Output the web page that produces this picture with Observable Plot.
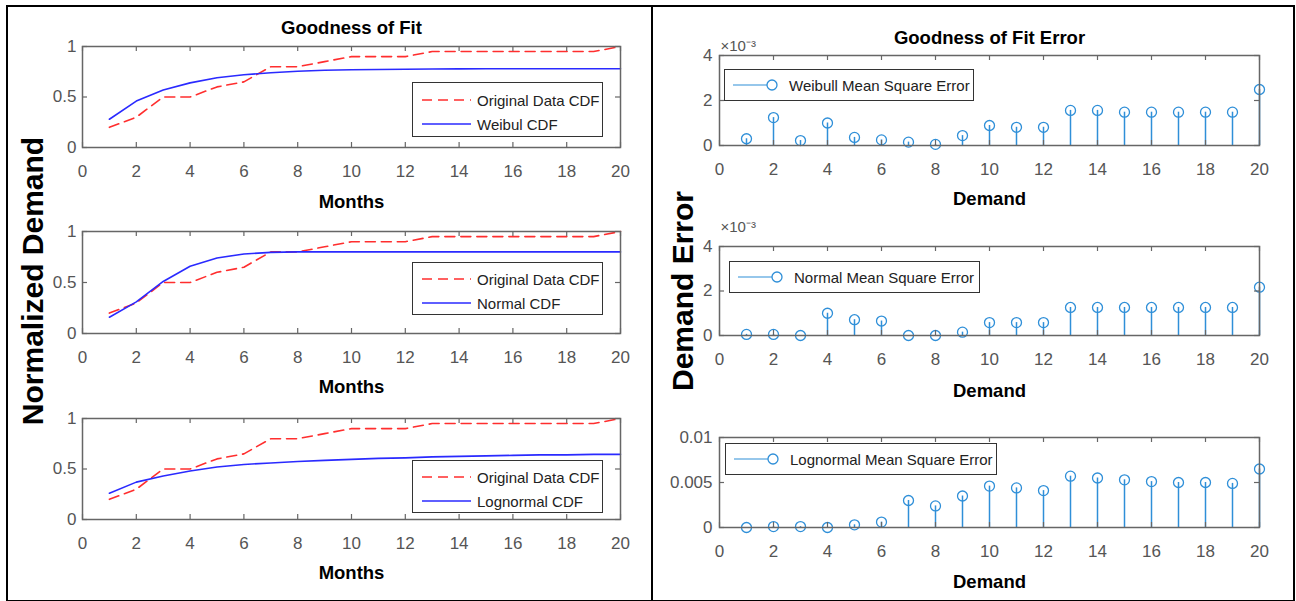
<!DOCTYPE html>
<html><head><meta charset="utf-8">
<script src="https://cdn.jsdelivr.net/npm/d3@7"></script>
<script src="https://cdn.jsdelivr.net/npm/@observablehq/plot@0.6"></script>
<style>
html,body{margin:0;padding:0;background:#fff;}
#root{position:relative;width:1296px;height:601px;overflow:hidden;background:#fff;font-family:"Liberation Sans",Arial,sans-serif;}
.frameBox{position:absolute;left:6px;top:5px;width:1289px;height:597px;box-sizing:border-box;border:2px solid #000;}
.divider{position:absolute;left:651px;top:5px;width:2px;height:597px;background:#000;}
.vlabel{position:absolute;font-weight:bold;font-size:30px;color:#000;white-space:nowrap;transform:translate(-50%,-50%) rotate(-90deg);}
.legend{position:absolute;background:#fff;border:1px solid #333;box-sizing:border-box;}
.legend .txt{position:absolute;font-size:15px;color:#222;white-space:nowrap;transform:translateY(-50%);}
.legend svg{position:absolute;overflow:visible;}
</style></head><body><div id="root"><div class="frameBox"></div><div class="divider"></div></div>
<script>
// ---------- data ----------
const months = [1,2,3,4,5,6,7,8,9,10,11,12,13,14,15,16,17,18,19,20];
const xTicks = [0,2,4,6,8,10,12,14,16,18,20];
const cdfTicks = [0,0.5,1];
const mseTicks = [0,0.002,0.004];
const lognTicks = [0,0.005,0.01];

const originalCDF = [0.2,0.3,0.5,0.5,0.6,0.65,0.8,0.8,0.85,0.9,0.9,0.9,0.95,0.95,0.95,0.95,0.95,0.95,0.95,1.0];
const weibullCDF  = [0.28,0.46,0.57,0.64,0.69,0.72,0.74,0.755,0.765,0.77,0.772,0.775,0.777,0.778,0.779,0.78,0.78,0.78,0.78,0.78];
const normalCDF   = [0.16,0.31,0.51,0.66,0.74,0.78,0.795,0.8,0.8,0.8,0.8,0.8,0.8,0.8,0.8,0.8,0.8,0.8,0.8,0.8];
const lognormalCDF= [0.26,0.37,0.43,0.48,0.52,0.545,0.56,0.575,0.585,0.595,0.605,0.61,0.62,0.625,0.63,0.635,0.64,0.64,0.645,0.645];

const weibullMSE  = [0.00030,0.00124,0.00022,0.00100,0.00036,0.00025,0.00015,0.00005,0.00044,0.00089,0.00081,0.00081,0.00156,0.00156,0.00148,0.00148,0.00148,0.00148,0.00148,0.00249];
const normalMSE   = [0.00005,0.00005,0.0,0.00100,0.00071,0.00065,0.0,0.0,0.00015,0.00058,0.00058,0.00058,0.00126,0.00126,0.00126,0.00126,0.00126,0.00126,0.00126,0.00217];
const lognormalMSE= [0.0,0.0001,0.0001,0.0,0.0003,0.0006,0.0030,0.0024,0.0035,0.0046,0.0044,0.0041,0.0057,0.0055,0.0053,0.0051,0.0050,0.0050,0.0049,0.0065];

const rows = months.map((m,i)=>({m, orig:originalCDF[i], weib:weibullCDF[i], norm:normalCDF[i], logn:lognormalCDF[i],
  eW:weibullMSE[i], eN:normalMSE[i], eL:lognormalMSE[i]}));

// ---------- styles ----------
const FONT = '"Liberation Sans", Arial, sans-serif';
const RED = "#ff2e2e", BLUE = "#2a2aff", STEM = "#2f8fd8", AX = "#666", TICKTXT = "#555";
const root = document.getElementById("root");

function subplot(o){
  const {left, top, width, height, f} = o;
  const fw = f.x1 - f.x0, fh = f.y1 - f.y0;
  const extra = [];
  if (o.title) extra.push(Plot.text([o.title], {frameAnchor:"top", lineAnchor:"bottom", dy:o.titleBase - f.y0,
    fontWeight:"bold", fontSize:18.5, fill:"#000", fontFamily:FONT}));
  if (o.exponent) extra.push(Plot.text([o.exponent], {frameAnchor:"top-left", textAnchor:"start", lineAnchor:"bottom",
    dx:1, dy:o.expBase - f.y0, fontSize:15, fill:TICKTXT, fontFamily:FONT}));
  extra.push(Plot.text([o.xlabel], {frameAnchor:"bottom", lineAnchor:"bottom", dy:o.xlabelBase - f.y1,
    fontWeight:"bold", fontSize:18.5, fill:"#000", fontFamily:FONT}));
  const p = Plot.plot({
    width, height,
    marginLeft: f.x0 - left, marginRight: left + width - f.x1,
    marginTop: f.y0 - top, marginBottom: top + height - f.y1,
    x: {domain:[0,20]},
    y: {domain:o.yDomain},
    style: {background:"transparent", overflow:"visible", fontFamily:FONT, fontSize:"17px"},
    marks: [
      ...o.marks,
      Plot.frame({stroke:AX, strokeWidth:1.5}),
      Plot.tickX(xTicks, {x:d=>d, stroke:AX, strokeWidth:1.2, insetTop:fh-5}),
      Plot.tickX(xTicks, {x:d=>d, stroke:AX, strokeWidth:1.2, insetBottom:fh-5}),
      Plot.tickY(o.yTicks, {y:d=>d, stroke:AX, strokeWidth:1.2, insetRight:fw-5}),
      Plot.tickY(o.yTicks, {y:d=>d, stroke:AX, strokeWidth:1.2, insetLeft:fw-5}),
      Plot.axisX(xTicks, {tickSize:0, tickPadding:17, fontSize:17, color:TICKTXT, label:null, fontFamily:FONT}),
      Plot.axisY(o.yTicks, {tickSize:0, tickPadding:o.yPad, fontSize:17, color:TICKTXT, label:null, tickFormat:o.yFormat, fontFamily:FONT}),
      ...extra
    ]
  });
  p.style.position = "absolute";
  p.style.left = left + "px";
  p.style.top = top + "px";
  root.appendChild(p);
}

const cdfMarks = key => [
  Plot.line(rows, {x:"m", y:"orig", stroke:RED, strokeWidth:1.6, strokeDasharray:"10,6"}),
  Plot.line(rows, {x:"m", y:key, stroke:BLUE, strokeWidth:1.6})
];
const stemMarks = key => [
  Plot.ruleX(rows, {x:"m", y1:0, y2:key, stroke:STEM, strokeWidth:1.5}),
  Plot.dot(rows, {x:"m", y:key, r:5, stroke:STEM, strokeWidth:1.3, fill:"none"})
];
const cdfFmt = d => d === 0.5 ? "0.5" : String(d);
const milli = d => String(Math.round(d*1000));

// left column
subplot({left:10, top:8, width:638, height:205, f:{x0:82, x1:620, y0:46, y1:147},
  yDomain:[0,1], yTicks:cdfTicks, yFormat:cdfFmt, yPad:6, marks:cdfMarks("weib"),
  title:"Goodness of Fit", titleBase:33, xlabel:"Months", xlabelBase:207});
subplot({left:10, top:213, width:638, height:185, f:{x0:82, x1:620, y0:231, y1:333},
  yDomain:[0,1], yTicks:cdfTicks, yFormat:cdfFmt, yPad:6, marks:cdfMarks("norm"),
  xlabel:"Months", xlabelBase:392});
subplot({left:10, top:398, width:638, height:200, f:{x0:82, x1:620, y0:418, y1:519},
  yDomain:[0,1], yTicks:cdfTicks, yFormat:cdfFmt, yPad:6, marks:cdfMarks("logn"),
  xlabel:"Months", xlabelBase:578});

// right column
subplot({left:656, top:8, width:636, height:205, f:{x0:719, x1:1259, y0:55, y1:145},
  yDomain:[0,0.004], yTicks:mseTicks, yFormat:milli, yPad:7, marks:stemMarks("eW"),
  title:"Goodness of Fit Error", titleBase:43, exponent:"×10⁻³", expBase:50, xlabel:"Demand", xlabelBase:204});
subplot({left:656, top:213, width:636, height:185, f:{x0:719, x1:1259, y0:246, y1:335},
  yDomain:[0,0.004], yTicks:mseTicks, yFormat:milli, yPad:7, marks:stemMarks("eN"),
  exponent:"×10⁻³", expBase:231, xlabel:"Demand", xlabelBase:396});
subplot({left:656, top:398, width:636, height:200, f:{x0:719, x1:1259, y0:437, y1:527},
  yDomain:[0,0.01], yTicks:lognTicks, yFormat:d=>String(d), yPad:7, marks:stemMarks("eL"),
  xlabel:"Demand", xlabelBase:587});

// ---------- legends ----------
function cdfLegend(left, top, width, height, fitName){
  const d = document.createElement("div");
  d.className = "legend";
  Object.assign(d.style, {left:left+"px", top:top+"px", width:width+"px", height:height+"px"});
  const rowsY = [height*0.31, height*0.75];
  const items = [{name:"Original Data CDF", color:RED, dash:"10,6"}, {name:fitName, color:BLUE, dash:null}];
  items.forEach((it,i)=>{
    const s = d3.create("svg").attr("width",50).attr("height",4)
      .style("left","9px").style("top",(rowsY[i]-2)+"px");
    s.append("line").attr("x1",0).attr("x2",49).attr("y1",2).attr("y2",2)
      .attr("stroke",it.color).attr("stroke-width",1.6).attr("stroke-dasharray",it.dash);
    d.appendChild(s.node());
    const t = document.createElement("div");
    t.className = "txt"; t.textContent = it.name;
    Object.assign(t.style, {left:"64px", top:rowsY[i]+"px"});
    d.appendChild(t);
  });
  root.appendChild(d);
}
function stemLegend(left, top, width, height, name){
  const d = document.createElement("div");
  d.className = "legend";
  Object.assign(d.style, {left:left+"px", top:top+"px", width:width+"px", height:height+"px"});
  const cy = height/2 - 1;
  const s = d3.create("svg").attr("width",50).attr("height",12)
    .style("left","8px").style("top",(cy-6)+"px");
  s.append("line").attr("x1",0).attr("x2",34).attr("y1",6).attr("y2",6).attr("stroke",STEM).attr("stroke-width",1.2);
  s.append("circle").attr("cx",39).attr("cy",6).attr("r",5).attr("fill","none").attr("stroke",STEM).attr("stroke-width",1.3);
  d.appendChild(s.node());
  const t = document.createElement("div");
  t.className = "txt"; t.textContent = name;
  Object.assign(t.style, {left:"64px", top:cy+"px"});
  d.appendChild(t);
  root.appendChild(d);
}
cdfLegend(412, 82, 191, 55, "Weibul CDF");
cdfLegend(412, 262, 191, 53, "Normal CDF");
cdfLegend(412, 460, 191, 53, "Lognormal CDF");
stemLegend(724, 69, 250, 32, "Weibull Mean Square Error");
stemLegend(729, 261, 251, 32, "Normal Mean Square Error");
stemLegend(725, 443, 272, 32, "Lognormal Mean Square Error");

// ---------- big rotated labels ----------
function vlabel(text, cx, cy){
  const v = document.createElement("div");
  v.className = "vlabel"; v.textContent = text;
  Object.assign(v.style, {left:cx+"px", top:cy+"px"});
  root.appendChild(v);
}
vlabel("Normalized Demand", 33, 281);
vlabel("Demand Error", 683, 291);
</script></body></html>
